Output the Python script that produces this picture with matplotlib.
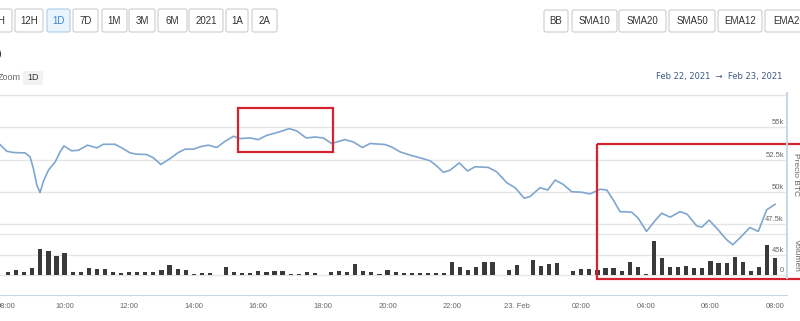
import numpy as np
import matplotlib.pyplot as plt
from matplotlib.patches import FancyBboxPatch, Rectangle
from matplotlib.transforms import blended_transform_factory, ScaledTranslation

plt.rcParams['font.family'] = ['Liberation Sans', 'DejaVu Sans']

# precio BTC en miles de USD, horas contadas desde el 22 feb 00:00
price_hours = [8.00, 8.21, 8.42, 8.78, 8.93, 9.03, 9.14, 9.24, 9.34, 9.50,
               9.71, 9.86, 9.98, 10.22, 10.43, 10.71, 11.00, 11.20, 11.56, 11.77,
               12.03, 12.24, 12.54, 12.75, 12.98, 13.27, 13.52, 13.73, 13.99, 14.20,
               14.45, 14.71, 14.97, 15.23, 15.43, 15.74, 16.00, 16.26, 16.57, 16.96,
               17.19, 17.48, 17.76, 18.01, 18.27, 18.68, 18.94, 19.22, 19.46, 19.92,
               20.13, 20.39, 20.70, 21.01, 21.32, 21.52, 21.73, 21.94, 22.22, 22.48,
               22.71, 23.12, 23.38, 23.69, 23.95, 24.23, 24.41, 24.72, 24.96, 25.19,
               25.44, 25.70, 26.01, 26.27, 26.58, 26.79, 26.99, 27.20, 27.56, 27.76,
               28.02, 28.28, 28.49, 28.75, 29.06, 29.28, 29.57, 29.73, 29.96, 30.19,
               30.50, 30.69, 30.91, 31.22, 31.48, 31.74, 32.00]
price_k = [53.67, 53.15, 53.05, 53.02, 52.72, 51.85, 50.54, 49.95, 50.79, 51.69,
           52.33, 53.10, 53.56, 53.18, 53.23, 53.62, 53.41, 53.69, 53.69, 53.41,
           53.02, 52.92, 52.90, 52.64, 52.13, 52.59, 53.05, 53.31, 53.31, 53.50,
           53.62, 53.44, 53.92, 54.31, 54.13, 54.18, 54.05, 54.38, 54.59, 54.90,
           54.72, 54.18, 54.25, 54.18, 53.75, 54.05, 53.87, 53.44, 53.75, 53.67,
           53.48, 53.10, 52.85, 52.64, 52.41, 52.02, 51.52, 51.69, 52.25, 51.62,
           51.95, 51.90, 51.56, 50.72, 50.33, 49.52, 49.64, 50.33, 50.15, 50.92,
           50.59, 50.02, 49.98, 49.85, 50.21, 50.15, 49.38, 48.48, 48.44, 47.98,
           46.95, 47.77, 48.36, 48.05, 48.48, 48.28, 47.38, 47.28, 47.82, 47.21,
           46.31, 45.92, 46.44, 47.25, 46.95, 48.62, 49.05]

# volumen (miles) cada 15 minutos desde las 08:15
volume_k = [6.3, 11.7, 6.3, 15.6, 59.9, 54.3, 44.3, 50.6, 7.7, 7.7,
            17.0, 13.3, 14.7, 6.3, 4.7, 7.7, 7.7, 6.3, 6.3, 11.0,
            22.6, 13.3, 12.4, 2.3, 5.4, 5.4, 0, 17.9, 6.3, 4.0,
            4.0, 10.0, 6.3, 10.0, 9.3, 3.0, 3.0, 6.3, 4.0, 0,
            6.3, 10.0, 6.3, 24.9, 9.3, 7.7, 3.0, 12.4, 6.3, 5.4,
            4.0, 4.0, 4.0, 4.0, 4.0, 31.0, 18.6, 12.4, 18.6, 31.0,
            29.6, 0, 11.7, 23.3, 0, 35.0, 21.7, 24.9, 27.3, 0,
            10.0, 13.3, 14.0, 12.4, 15.6, 15.6, 9.3, 29.6, 17.9, 2.3,
            77.6, 38.9, 17.9, 18.6, 21.0, 15.6, 15.6, 33.3, 27.3, 27.3,
            42.6, 29.6, 10.0, 19.3, 68.3, 40.3]
vol_hours = 8 + 0.25 * np.arange(1, len(volume_k) + 1)

xtick_hours = [8, 10, 12, 14, 16, 18, 20, 22, 24, 26, 28, 30, 32]
xtick_labels = ['08:00', '10:00', '12:00', '14:00', '16:00', '18:00', '20:00',
                '22:00', '23. Feb', '02:00', '04:00', '06:00', '08:00']
price_grid = [47.5, 50, 52.5, 55, 57.5]
price_ticks = [47.5, 50, 52.5, 55]
price_tick_labels = ['47.5k', '50k', '52.5k', '55k']
vol_ticks = [0, 45]
vol_tick_labels = ['0', '45k']

range_buttons = ['H', '12H', '1D', '7D', '1M', '3M', '6M', '2021', '1A', '2A']
range_edges = [(-10, 12), (15, 43), (47, 70), (73, 98), (102, 127), (129, 155),
               (158, 187), (189, 223), (226, 248), (252, 277)]
indicator_buttons = ['BB', 'SMA10', 'SMA20', 'SMA50', 'EMA12', 'EMA26']
indicator_edges = [(544, 568), (572, 617), (619, 666), (669, 715), (718, 762), (765, 813)]

W, H = 800, 321
fig = plt.figure(figsize=(8, 3.21), dpi=100)
fig.patch.set_facecolor('white')


def px_box(x0, y0, x1, y1):
    return [x0 / W, 1 - y1 / H, (x1 - x0) / W, (y1 - y0) / H]


grid_c = '#e6e6e6'
label_c = '#666666'

# panel de precio
ax = fig.add_axes(px_box(0, 95, 787, 234))
axv = fig.add_axes(px_box(0, 234, 787, 295), sharex=ax)
for a in (ax, axv):
    a.patch.set_visible(False)
    for s in a.spines.values():
        s.set_visible(False)
ax.set_zorder(3)
axv.set_zorder(2)

ax.set_xlim(8.0, 32.37)
ax.set_ylim(46.75, 57.5)
for v in price_grid:
    ax.axhline(v, color=grid_c, lw=1, zorder=1, clip_on=False)
ax.axhline(46.75, color=grid_c, lw=1, zorder=1, clip_on=False)
ax.plot(price_hours, price_k, color='#7ea6ce', lw=1.2, clip_on=False,
        solid_joinstyle='round', zorder=4)
ax.set_yticks([])
ax.tick_params(bottom=False, labelbottom=False)

tr = blended_transform_factory(ax.transAxes, ax.transData)
off = ScaledTranslation(-3 / 100, 4.5 / 100, fig.dpi_scale_trans)
for v, lab in zip(price_ticks, price_tick_labels):
    ax.text(1, v, lab, transform=tr + off, ha='right', va='center',
            fontsize=5.5, color=label_c)

# panel de volumen
axv.set_ylim(-46.2, 94.6)
for v in vol_ticks:
    axv.axhline(v, color=grid_c, lw=1, zorder=1)
axv.bar(vol_hours, volume_k, width=0.13, color='#3a3a3a', zorder=3)
axv.set_yticks([])
axv.spines['bottom'].set_visible(True)
axv.spines['bottom'].set_color('#ccd6eb')
axv.set_xticks(xtick_hours)
axv.set_xticklabels(xtick_labels)
axv.tick_params(axis='x', length=0, pad=5.5, labelsize=5.5, labelcolor=label_c)
first = axv.get_xticklabels()[0]
first.set_horizontalalignment('left')
first.set_transform(first.get_transform() + ScaledTranslation(-3 / 100, 0, fig.dpi_scale_trans))

trv = blended_transform_factory(axv.transAxes, axv.transData)
for v, lab in zip(vol_ticks, vol_tick_labels):
    axv.text(1, v, lab, transform=trv + off, ha='right', va='center',
             fontsize=5.5, color=label_c)

# capa de interfaz en pixeles
ui = fig.add_axes([0, 0, 1, 1])
ui.set_xlim(0, W)
ui.set_ylim(H, 0)
ui.axis('off')
ui.set_zorder(10)
ui.patch.set_visible(False)

ui.plot([787, 787], [93, 278], color='#ccd6eb', lw=1.5)
ui.text(796, 175, 'Precio BTC', rotation=-90, ha='center', va='center',
        fontsize=6, color=label_c)
ui.text(796, 255, 'Volumen', rotation=-90, ha='center', va='center',
        fontsize=6, color=label_c)


def button(x0, x1, y0, y1, text, selected=False):
    fc = '#eaf4fd' if selected else 'white'
    ec = '#a9cdee' if selected else '#cccccc'
    tc = '#3a85d0' if selected else '#333333'
    ui.add_patch(FancyBboxPatch((x0, y0), x1 - x0, y1 - y0,
                                boxstyle='round,pad=0,rounding_size=2',
                                fc=fc, ec=ec, lw=0.8))
    ui.text((x0 + x1) / 2, (y0 + y1) / 2 + 0.5, text, ha='center', va='center',
            fontsize=7, color=tc)


for lab, (x0, x1) in zip(range_buttons, range_edges):
    button(x0, x1, 9, 32, lab, selected=(lab == '1D'))
for lab, (x0, x1) in zip(indicator_buttons, indicator_edges):
    button(x0, x1, 10, 32, lab)

ui.text(2, 54, ')', ha='right', va='center', fontsize=8, color='#333333')
ui.text(-2, 77.5, 'Zoom', ha='left', va='center', fontsize=6.5, color=label_c)
ui.add_patch(Rectangle((23, 71), 20, 14, fc='#f2f2f2', ec='none'))
ui.text(33, 78, '1D', ha='center', va='center', fontsize=6.5, color='#333333')
ui.text(782, 77, 'Feb 22, 2021  \u2192  Feb 23, 2021', ha='right', va='center',
        fontsize=6, color='#3c5a86', family='DejaVu Sans')

# recuadros rojos
ui.add_patch(Rectangle((238.3, 108.3), 94.4, 44, fill=False, ec='#d2232f', lw=1.6))
ui.add_patch(Rectangle((597, 143.5), 220, 135, fill=False, ec='#d2232f', lw=1.6))

plt.savefig('out.png', dpi=100, facecolor='white')
